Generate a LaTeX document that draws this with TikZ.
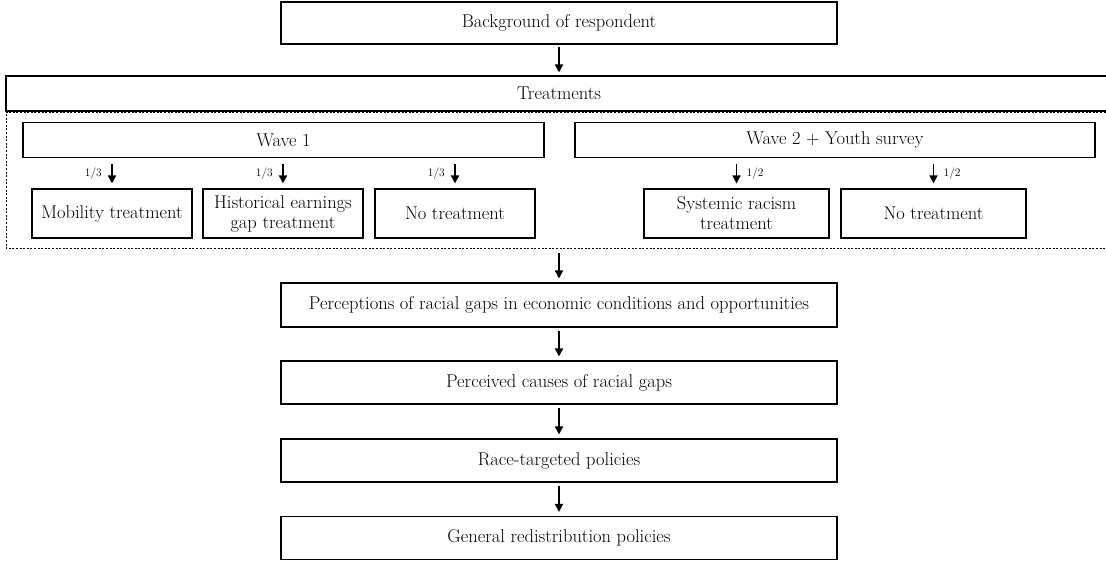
\documentclass[tikz,border=0pt]{standalone}
\usetikzlibrary{arrows.meta}
\begin{document}
\begin{tikzpicture}[x=1pt,y=-1pt,
  box/.style={draw, line width=1.1pt, inner sep=0pt, align=center, font=\fontsize{18.5}{20}\selectfont},
  arr/.style={line width=1.6pt, -{Triangle[length=8pt,width=8pt]}},
  frac/.style={font=\fontsize{11.5}{12}\selectfont, inner sep=0pt},
  dashbox/.style={line width=0.9pt, dash pattern=on 2pt off 1.6pt}
]
\useasboundingbox (0,0) rectangle (1106,560);
\clip (0,0) rectangle (1106,560);
\fill[white] (0,0) rectangle (1106,560);

\node[box, minimum width=556pt, minimum height=42pt] (bg) at (559,23) {Background of respondent};
\node[box, minimum width=1106pt, minimum height=35pt] (treat) at (559,93.5) {Treatments};
\draw[dashbox] (1120,112) -- (6,112) -- (6,248) -- (1120,248);
\coordinate (dbot) at (559,248);

\node[box, minimum width=521pt, minimum height=35pt] (w1) at (283.5,140) {Wave 1};
\node[box, minimum width=520pt, minimum height=35pt] (w2) at (835,140) {Wave 2 + Youth survey};

\node[box, minimum width=160pt, minimum height=49pt] (mob) at (112,213.5) {Mobility treatment};
\node[box, minimum width=160pt, minimum height=49pt] (hist) at (283,213.5) {Historical earnings\\gap treatment};
\node[box, minimum width=160pt, minimum height=49pt] (no1) at (455,213.5) {No treatment};
\node[box, minimum width=185pt, minimum height=49pt] (sys) at (736.5,213.5) {Systemic racism\\treatment};
\node[box, minimum width=185pt, minimum height=49pt] (no2) at (933.5,213.5) {No treatment};

\node[box, minimum width=556pt, minimum height=44pt] (perc) at (559,305) {Perceptions of racial gaps in economic conditions and opportunities};
\node[box, minimum width=556pt, minimum height=43pt] (caus) at (559,382.5) {Perceived causes of racial gaps};
\node[box, minimum width=556pt, minimum height=43pt] (race) at (559,460.5) {Race-targeted policies};
\node[box, minimum width=556pt, minimum height=43pt] (gen) at (559,538) {General redistribution policies};

\draw[arr, shorten <=2pt, shorten >=3pt] (bg) -- (treat);
\foreach \n in {mob,hist,no1}{
  \draw[arr, shorten <=6pt, shorten >=5pt] (\n.north |- w1.south) -- (\n.north);
  \node[frac, anchor=east] at ([xshift=-10pt,yshift=-16pt]\n.north |- w1.south) {1/3};
}
\foreach \n in {sys,no2}{
  \draw[arr, shorten <=6pt, shorten >=5pt] (\n.north |- w2.south) -- (\n.north);
  \node[frac, anchor=west] at ([xshift=10pt,yshift=-16pt]\n.north |- w2.south) {1/2};
}
\draw[arr, shorten <=5pt, shorten >=4pt] (dbot) -- (perc);
\draw[arr, shorten <=3pt, shorten >=4pt] (perc) -- (caus);
\draw[arr, shorten <=3pt, shorten >=4pt] (caus) -- (race);
\draw[arr, shorten <=3pt, shorten >=4pt] (race) -- (gen);
\end{tikzpicture}
\end{document}
